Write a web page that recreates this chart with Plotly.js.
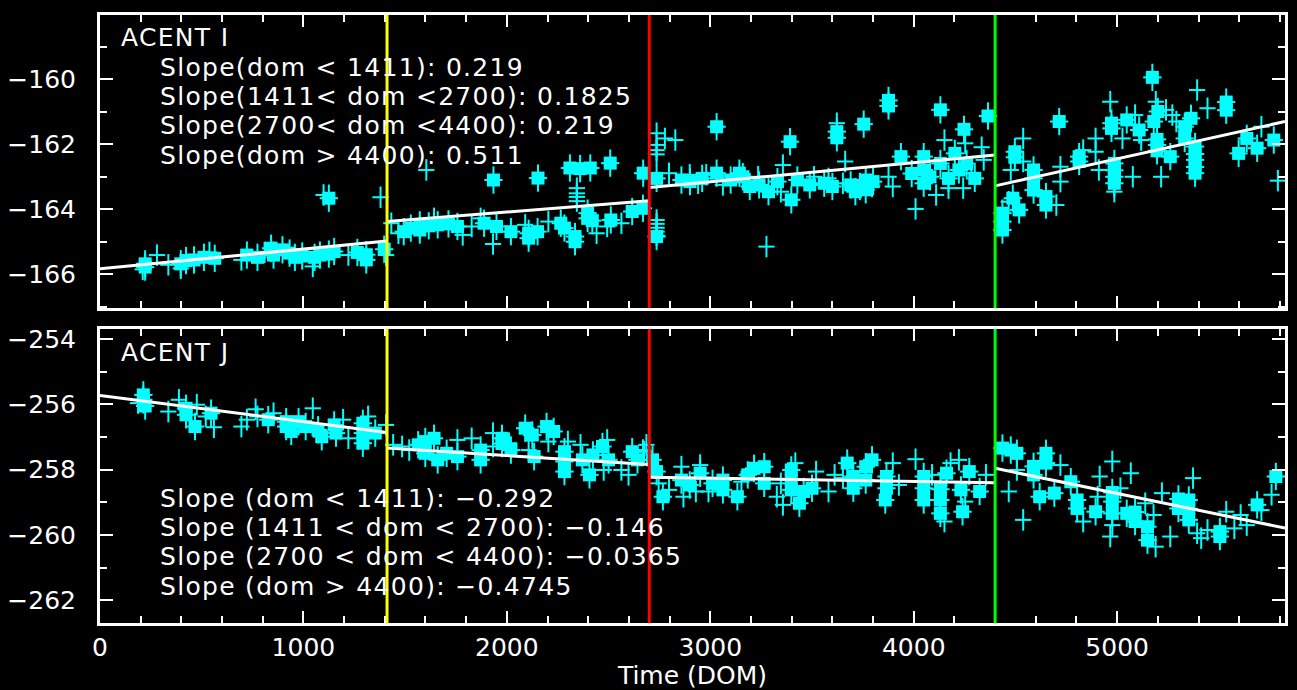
<!DOCTYPE html>
<html>
<head>
<meta charset="utf-8">
<script src="https://cdn.plot.ly/plotly-3.0.1.min.js"></script>
<style>
html,body{margin:0;padding:0;background:#000;}
#chart{width:1297px;height:690px;}
</style>
</head>
<body>
<div id="chart"></div>
<script>
// ---------- DATA ----------
// ACENT I (top panel)
const topCrossX = [210,280,336,397,538,695,809,1046,1221,1406,1099,1379,
  1432,1467,1642,1783,1827,1871,1932,2090,2204,2441,2493,2563,1604,
  2344,2344,2344,2344,
  2736,2736,2736,2736,2736,2736,2736,2736,2736,
  2777,2828,2797,2899,2940,2980,3062,3235,3357,3347,3510,3581,3622,3663,3652,3876,3897,4009,4110,4151,4171,4253,4243,4283,4334,4344,3276,3795,
  4467,4477,4538,4538,4701,4721,4721,4833,4894,4894,4910,4966,4986,5026,5077,5088,5118,5190,5216,5240,5271,5291,5393,5444,5709,5790];
const topCrossY = [-165.85,-165.41,-165.71,-165.82,-165.33,-165.56,-165.33,-165.76,-165.41,-165.41,-163.56,-163.63,
  -164.43,-164.74,-164.28,-164.79,-164.53,-164.28,-165.07,-164.48,-164.38,-164.74,-164.53,-164.43,-162.79,
  -163.35,-163.51,-163.62,-163.75,
  -164.33,-164.45,-164.57,-164.69,-164.81,-161.66,-162.02,-162.18,-162.31,
  -161.82,-161.87,-162.89,-162.94,-163.2,-162.94,-163.25,-163.0,-162.64,-163.46,-163.0,-163.05,-161.35,-162.53,-163.2,-163.0,-163.3,-163.99,-163.56,-161.87,-163.35,-161.97,-163.35,-162.89,-162.09,-162.48,-165.15,-163.3,
  -163.77,-162.79,-161.82,-162.53,-163.87,-162.69,-163.15,-162.18,-162.23,-161.82,-162.79,-160.69,-163.46,-161.82,-163.0,-161.1,-161.87,-160.69,-163.0,-160.94,-161.1,-161.3,-160.33,-160.89,-161.46,-163.12];
const topBlockX = [222,222,397,423,462,511,564,722,774,841,853,897,932,958,994,1055,1081,1125,1151,1265,1309,1309,1397,1125,
  1493,1528,1572,1572,1616,1660,1713,1757,1888,1949,2020,2107,2107,2151,2265,2283,2335,2335,2397,2397,2420,2511,2616,2669,
  1934,2153,2310,2360,2410,2508,2670,
  2736,2736,2858,3031,3031,3143,3194,3286,3392,3398,3428,3489,3622,3622,3713,3754,3764,3764,3735,3876,3876,3937,4049,4049,4049,4131,4131,4171,4202,4222,4247,4365,
  2900,2960,3100,3160,3240,3330,3560,3600,3690,3800,3990,4080,4260,4300,
  4436,4436,4436,4487,4497,4497,4518,4589,4589,4589,4650,4650,4715,4813,4813,4972,4972,4986,4986,4986,4986,5047,5108,5173,5180,5200,5196,5196,5196,5261,5332,5332,5363,5383,5383,5383,5383,5383,5536,5536,5597,5637,5688,5770];
const topBlockY = [-165.68,-165.78,-165.68,-165.58,-165.56,-165.48,-165.51,-165.41,-165.48,-165.2,-165.41,-165.25,-165.35,-165.48,-165.44,-165.48,-165.41,-165.38,-165.3,-165.33,-165.4,-165.56,-165.23,-163.66,
  -164.69,-164.58,-164.64,-164.48,-164.51,-164.48,-164.45,-164.53,-164.43,-164.53,-164.69,-164.74,-164.89,-164.69,-164.43,-164.58,-164.84,-165.0,-164.28,-164.12,-164.35,-164.33,-164.07,-163.97,
  -163.1,-163.04,-162.73,-162.75,-162.73,-162.58,-162.89,
  -164.84,-163.05,-163.1,-161.46,-162.89,-162.89,-163.3,-163.46,-161.92,-163.71,-163.1,-163.25,-161.61,-161.8,-163.46,-161.38,-163.1,-163.4,-163.3,-160.82,-160.65,-162.38,-162.79,-163.2,-162.38,-160.94,-162.59,-163.05,-162.28,-162.79,-161.54,-161.13,
  -163.15,-163.05,-163.1,-163.0,-163.25,-163.15,-163.2,-163.3,-163.25,-163.15,-162.9,-163.0,-162.6,-163.05,
  -164.12,-164.38,-164.64,-163.66,-162.23,-162.4,-164.02,-162.79,-163.05,-163.41,-163.61,-163.87,-161.3,-162.38,-162.53,-161.51,-161.35,-162.59,-163.0,-163.2,-162.8,-161.25,-161.56,-159.94,-161.3,-160.99,-161.85,-162.02,-162.2,-162.38,-161.46,-161.82,-161.2,-162.07,-162.3,-162.48,-162.7,-162.89,-160.7,-160.95,-162.28,-161.82,-162.12,-161.87];

// ACENT J (bottom panel)
const botCrossX = [187,336,388,476,520,560,695,722,765,774,853,1046,1195,1221,1318,1406,
  1441,1485,1520,1757,1827,1932,1932,2011,2107,2204,2300,2362,2476,2493,2563,2598,2669,2686,2675,
  2746,2797,2858,2868,2929,2950,2991,3153,3327,3347,3357,3418,3520,3581,3611,3652,3897,3927,4009,4090,4151,4181,4222,4253,4355,
  4467,4507,4538,4721,4833,4904,4914,4976,4966,4976,5016,5067,5138,5179,5189,5220,5261,5373,5393,5413,5444,5536,5576,5607,5637,5709,5759];
const botCrossY = [-255.96,-256.22,-255.86,-256.01,-256.37,-256.70,-256.68,-256.47,-256.15,-256.37,-256.27,-256.12,-256.47,-257.04,-256.37,-256.63,
  -257.24,-257.29,-257.40,-257.09,-257.04,-256.88,-257.29,-257.19,-257.40,-257.14,-257.14,-257.24,-258.01,-257.09,-258.01,-258.16,-257.40,-257.24,-257.45,
  -258.42,-258.62,-257.91,-258.83,-258.67,-257.86,-258.67,-258.37,-258.83,-258.42,-259.08,-257.80,-258.06,-258.67,-258.16,-258.26,-257.80,-258.47,-257.68,-258.16,-259.59,-257.80,-257.70,-258.98,-258.16,
  -258.67,-258.01,-259.54,-257.86,-259.59,-258.83,-258.21,-257.75,-260.05,-259.70,-258.57,-258.11,-259.03,-259.39,-260.36,-258.72,-260.05,-258.26,-259.95,-260.10,-259.85,-259.29,-259.80,-259.39,-259.70,-259.24,-258.77];
const botBlockX = [213,213,222,423,423,467,546,827,915,915,940,976,1011,1072,1090,1151,1160,1292,1292,1292,1353,
  1564,1599,1599,1642,1660,1704,1757,1871,1871,1976,1976,2020,2090,2125,2134,2195,2230,2283,2283,2283,2371,2406,2423,2470,2500,2616,2642,
  2716,2736,2767,2858,2899,2950,3011,3062,3062,3133,3184,3215,3265,3265,3398,3398,3398,3438,3459,3500,3673,3703,3703,3764,3764,3795,3866,3866,3860,4049,4049,4049,4131,4131,4131,4161,4232,4240,4273,4324,
  4436,4477,4507,4589,4589,4619,4650,4650,4691,4772,4803,4803,4894,4976,4976,4976,5047,5088,5088,5149,5149,5301,5301,5352,5352,5352,5505,5505,5688,5780];
const botBlockY = [-255.71,-255.86,-256.05,-256.12,-256.32,-256.68,-256.27,-256.47,-256.53,-256.68,-256.83,-256.53,-256.68,-256.78,-256.99,-256.63,-256.88,-256.58,-256.88,-257.19,-256.88,
  -257.24,-257.14,-257.5,-257.04,-257.70,-257.5,-257.6,-257.40,-257.70,-257.04,-257.2,-257.40,-256.73,-256.94,-257.6,-256.68,-256.83,-257.45,-257.75,-258.06,-257.70,-258.16,-257.55,-257.29,-257.70,-257.45,-257.70,
  -257.70,-258.06,-258.83,-258.32,-258.47,-258.11,-258.42,-258.32,-258.62,-258.83,-258.16,-257.96,-257.91,-258.42,-258.01,-258.3,-258.62,-259.03,-258.67,-258.57,-257.80,-258.21,-258.57,-257.91,-258.32,-257.70,-258.21,-258.57,-258.93,-258.21,-258.57,-258.93,-258.6,-258.93,-259.34,-258.11,-258.62,-259.29,-258.06,-258.67,
  -257.34,-257.40,-257.50,-258.16,-257.9,-258.83,-257.80,-257.5,-258.72,-258.37,-258.93,-259.19,-259.29,-258.98,-259.34,-258.7,-259.34,-259.59,-259.3,-259.75,-260.16,-259.19,-258.9,-258.93,-259.54,-259.2,-259.90,-260.05,-259.08,-258.21];

// piecewise fit lines (endpoints)
const topFitX = [[0,1411],[1411,2700],[2700,4400],[4400,5825]];
const topFitY = [[-165.83,-164.98],[-164.38,-163.74],[-163.33,-162.33],[-163.28,-161.30]];
const botFitX = [[0,1411],[1411,2700],[2700,4400],[4400,5825]];
const botFitY = [[-255.73,-256.86],[-257.34,-257.84],[-258.23,-258.40],[-257.96,-259.79]];

// boundary days
const boundaries = [1411, 2700, 4400];
const boundaryColors = ['#ffff00', '#ff0000', '#00ff00'];

const topLabel = 'ACENT I';
const topSlopes = ['Slope(dom < 1411): 0.219','Slope(1411< dom <2700): 0.1825','Slope(2700< dom <4400): 0.219','Slope(dom > 4400): 0.511'];
const botLabel = 'ACENT J';
const botSlopes = ['Slope (dom < 1411): \u22120.292','Slope (1411 < dom < 2700): \u22120.146','Slope (2700 < dom < 4400): \u22120.0365','Slope (dom > 4400): \u22120.4745'];

// ---------- BUILD ----------
const CYAN = '#00ffff';
const FONT = 'DejaVu Sans, Liberation Sans, sans-serif';
function crossTrace(x, y, xa, ya) {
  return {x:x, y:y, xaxis:xa, yaxis:ya, type:'scatter', mode:'markers',
    marker:{size:2, color:CYAN},
    error_x:{type:'constant', value:40, thickness:2, width:0, color:CYAN},
    error_y:{type:'constant', value:0.33, thickness:2, width:0, color:CYAN},
    hoverinfo:'skip', showlegend:false, cliponaxis:true};
}
function blockTrace(x, y, xa, ya) {
  return {x:x, y:y, xaxis:xa, yaxis:ya, type:'scatter', mode:'markers',
    marker:{size:13, color:CYAN, symbol:'square', line:{width:0}},
    error_x:{type:'constant', value:45, thickness:2, width:0, color:CYAN},
    error_y:{type:'constant', value:0.42, thickness:2, width:0, color:CYAN},
    hoverinfo:'skip', showlegend:false, cliponaxis:true};
}
const traces = [
  crossTrace(topCrossX, topCrossY, 'x', 'y'),
  blockTrace(topBlockX, topBlockY, 'x', 'y'),
  crossTrace(botCrossX, botCrossY, 'x2', 'y2'),
  blockTrace(botBlockX, botBlockY, 'x2', 'y2')
];
topFitX.forEach((fx, i) => traces.push({x:fx, y:topFitY[i], xaxis:'x', yaxis:'y', type:'scatter', mode:'lines',
  line:{color:'#ffffff', width:3}, hoverinfo:'skip', showlegend:false}));
botFitX.forEach((fx, i) => traces.push({x:fx, y:botFitY[i], xaxis:'x2', yaxis:'y2', type:'scatter', mode:'lines',
  line:{color:'#ffffff', width:3}, hoverinfo:'skip', showlegend:false}));

const shapes = [];
boundaries.forEach((b, i) => {
  shapes.push({type:'line', xref:'x', yref:'y domain', x0:b, x1:b, y0:0, y1:1, line:{color:boundaryColors[i], width:3}});
  shapes.push({type:'line', xref:'x2', yref:'y2 domain', x0:b, x1:b, y0:0, y1:1, line:{color:boundaryColors[i], width:3}});
});

const W = 1297, H = 690, ML = 100, MR = 12, MT = 15, MB = 67;
const PH = H - MT - MB;
function py(p) { return (H - MB - p) / PH; }
function px(p) { return (p - ML) / (W - ML - MR); }

const annotations = [];
const txtFont = {family:FONT, size:25, color:'#ffffff'};
function spaced(t) { return '<span style="letter-spacing:1.3px">' + t + '</span>'; }
annotations.push({xref:'paper', yref:'paper', x:px(119), y:py(38), xanchor:'left', yanchor:'middle', text:spaced(topLabel), showarrow:false, font:txtFont});
topSlopes.forEach((t, i) => annotations.push({xref:'paper', yref:'paper', x:px(158), y:py(67 + i*29.4), xanchor:'left', yanchor:'middle', text:spaced(t), showarrow:false, font:txtFont}));
annotations.push({xref:'paper', yref:'paper', x:px(119), y:py(352), xanchor:'left', yanchor:'middle', text:spaced(botLabel), showarrow:false, font:txtFont});
botSlopes.forEach((t, i) => annotations.push({xref:'paper', yref:'paper', x:px(158), y:py(498 + i*29.4), xanchor:'left', yanchor:'middle', text:spaced(t), showarrow:false, font:txtFont}));

const tickFont = {family:FONT, size:25, color:'#ffffff'};
const axCommon = {showline:true, linecolor:'#ffffff', linewidth:3, mirror:'allticks', ticks:'inside',
  tickcolor:'#ffffff', tickwidth:2, showgrid:false, zeroline:false, tickfont:tickFont, fixedrange:true};

const layout = {
  width:W, height:H, margin:{l:ML, r:MR, t:MT, b:MB},
  paper_bgcolor:'#000000', plot_bgcolor:'#000000',
  showlegend:false,
  xaxis: Object.assign({}, axCommon, {domain:[0,1], anchor:'y', range:[0,5825], dtick:1000, tick0:0, ticklen:12,
    showticklabels:false, minor:{dtick:200, ticklen:7, tickcolor:'#ffffff', tickwidth:2, ticks:'inside'}}),
  yaxis: Object.assign({}, axCommon, {domain:[py(308),1], anchor:'x', range:[-167.04,-158.02], dtick:2, tick0:0, ticklen:13,
    ticklabelstandoff:16, minor:{dtick:1, ticklen:7, tickcolor:'#ffffff', tickwidth:2, ticks:'inside'}}),
  xaxis2: Object.assign({}, axCommon, {domain:[0,1], anchor:'y2', range:[0,5825], dtick:1000, tick0:0, ticklen:12,
    ticklabelstandoff:0, minor:{dtick:200, ticklen:7, tickcolor:'#ffffff', tickwidth:2, ticks:'inside'},
    title:{text:'Time (DOM)', font:{family:FONT, size:25, color:'#ffffff'}, standoff:12}}),
  yaxis2: Object.assign({}, axCommon, {domain:[0,py(329)], anchor:'x2', range:[-262.7,-253.69], dtick:2, tick0:0, ticklen:13,
    ticklabelstandoff:16, minor:{dtick:1, ticklen:7, tickcolor:'#ffffff', tickwidth:2, ticks:'inside'}}),
  shapes: shapes,
  annotations: annotations
};

Plotly.newPlot('chart', traces, layout, {staticPlot:true, displayModeBar:false});
</script>
</body>
</html>
